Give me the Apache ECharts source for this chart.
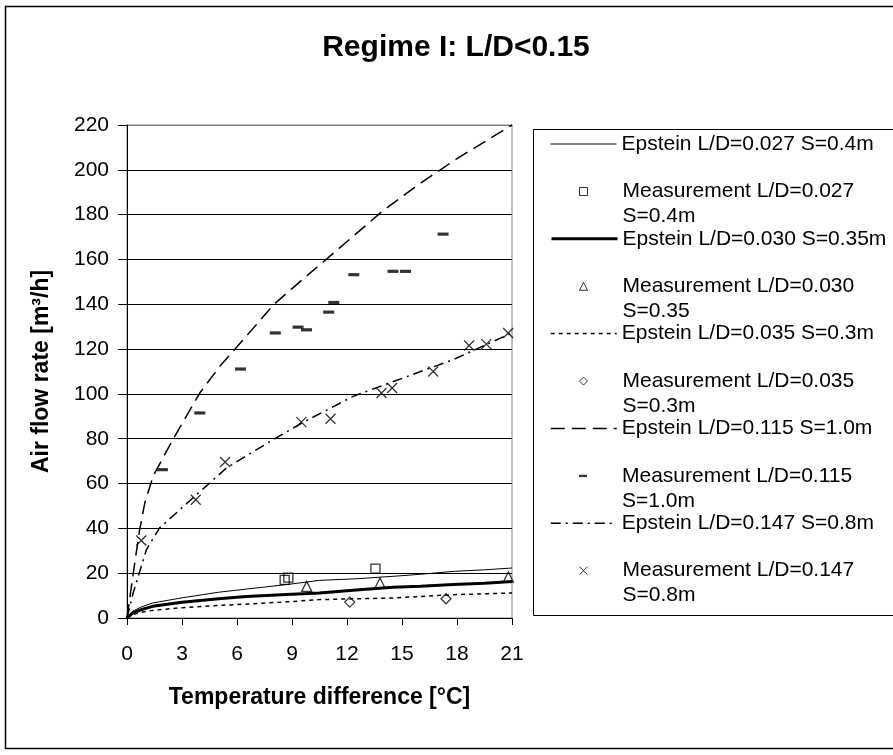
<!DOCTYPE html>
<html>
<head>
<meta charset="utf-8">
<script src="https://cdn.jsdelivr.net/npm/echarts@6/dist/echarts.min.js"></script>
<style>
  html, body { margin: 0; padding: 0; background: #fff; }
  #chart { width: 893px; height: 755px; }
</style>
</head>
<body>
<div id="chart"></div>
<script>
// ---------- DATA ----------
const chartTitle = 'Regime I: L/D<0.15';
const xAxisName = 'Temperature difference [°C]';
const yAxisName = 'Air flow rate [m³/h]';
const xTicks = [0, 3, 6, 9, 12, 15, 18, 21];
const yTicks = [0, 20, 40, 60, 80, 100, 120, 140, 160, 180, 200, 220];

const seriesNames = [
  'Epstein L/D=0.027 S=0.4m',
  'Measurement L/D=0.027\nS=0.4m',
  'Epstein L/D=0.030 S=0.35m',
  'Measurement L/D=0.030\nS=0.35',
  'Epstein L/D=0.035 S=0.3m',
  'Measurement L/D=0.035\nS=0.3m',
  'Epstein L/D=0.115 S=1.0m',
  'Measurement L/D=0.115\nS=1.0m',
  'Epstein L/D=0.147 S=0.8m',
  'Measurement L/D=0.147\nS=0.8m'
];

// Epstein curves (small L/D)
const epSmallX   = [0, 0.3, 0.8, 1.4, 3, 5, 6.5, 8.7, 10.5, 12.5, 14.5, 16, 17.8, 19.5, 21];
const ep027Y     = [0, 3.0, 5.0, 6.7, 9.0, 11.5, 12.9, 14.9, 16.8, 17.5, 18.6, 19.5, 20.8, 21.5, 22.3];
const ep030Y     = [0, 2.2, 3.8, 5.2, 7.0, 8.6, 9.6, 10.5, 11.2, 12.5, 13.7, 14.2, 14.9, 15.5, 16.3];
const ep035Y     = [0, 1.5, 2.6, 3.4, 4.6, 5.6, 6.2, 7.2, 8.2, 8.6, 8.9, 9.6, 10.4, 10.8, 11.2];

// Epstein L/D=0.115
const ep115X = [0, 0.24, 0.42, 0.69, 0.97, 1.42, 2.5, 3.97, 5.06, 6, 8, 9, 10, 12, 14, 16, 18, 21];
const ep115Y = [0, 14, 24.5, 39.4, 51.3, 63.2, 79.6, 100.4, 112.3, 121, 139.8, 147, 154, 168, 182, 194, 205, 220];

// Epstein L/D=0.147
const ep147X = [0, 0.33, 1.06, 1.78, 3.79, 5.42, 7.97, 9.51, 12.33, 15.06, 17.79, 21];
const ep147Y = [0, 11, 30.5, 40.2, 55, 66.9, 79.6, 86.9, 98.9, 107.1, 115.3, 127.2];

// Measurements
const m027X = [8.6, 8.8, 13.55];
const m027Y = [17.0, 18.0, 22.0];
const m030X = [9.8, 13.8, 20.8];
const m030Y = [14.1, 15.6, 18.3];
const m035X = [12.15, 17.4];
const m035Y = [7.1, 8.6];
const m115X = [1.93, 3.97, 6.19, 8.09, 9.33, 9.79, 11.0, 11.28, 12.37, 14.51, 15.19, 17.24];
const m115Y = [66.2, 91.5, 111.1, 127.2, 129.8, 128.6, 136.5, 140.8, 153.2, 154.7, 154.7, 171.3];
const m147X = [0.78, 3.75, 5.35, 9.51, 11.1, 13.88, 14.46, 16.7, 18.66, 19.6, 20.79];
const m147Y = [34.6, 52.8, 69.6, 87.4, 88.9, 100.4, 102.6, 110.0, 121.6, 122.2, 127.2];

// ---------- BUILD ----------
const zip = (xs, ys) => xs.map((x, i) => [x, ys[i]]);
const FONT = 'Liberation Sans, Arial, sans-serif';
const BLACK = '#000';

const lineSeries = (name, data, width, type) => ({
  name, type: 'line', data, symbol: 'none', smooth: false, z: 3,
  lineStyle: { color: BLACK, width, type },
  itemStyle: { color: BLACK },
  emphasis: { disabled: true }
});
const scatterSeries = (name, data, symbol, size, filled) => ({
  name, type: 'scatter', data, symbol, symbolSize: size, z: 4,
  itemStyle: filled
    ? { color: BLACK, borderWidth: 0 }
    : { color: 'rgba(255,255,255,0)', borderColor: BLACK, borderWidth: 1.3 },
  emphasis: { disabled: true }
});

const XSYM = 'path://M0,0L10,10M10,0L0,10';
const DASHSYM = 'path://M0,0L11,0L11,3.2L0,3.2Z';

const series = [
  lineSeries(seriesNames[0], zip(epSmallX, ep027Y), 1, 'solid'),
  scatterSeries(seriesNames[1], zip(m027X, m027Y), 'rect', 9, false),
  lineSeries(seriesNames[2], zip(epSmallX, ep030Y), 3, 'solid'),
  scatterSeries(seriesNames[3], zip(m030X, m030Y), 'triangle', 10, false),
  lineSeries(seriesNames[4], zip(epSmallX, ep035Y), 1.5, [4, 4]),
  scatterSeries(seriesNames[5], zip(m035X, m035Y), 'diamond', 10, false),
  lineSeries(seriesNames[6], zip(ep115X, ep115Y), 1.5, [14, 7]),
  scatterSeries(seriesNames[7], zip(m115X, m115Y), DASHSYM, [11, 3.2], true),
  lineSeries(seriesNames[8], zip(ep147X, ep147Y), 1.5, [10, 5, 2, 5]),
  scatterSeries(seriesNames[9], zip(m147X, m147Y), XSYM, 10, false)
];

// legend: one component per entry so each sits like the reference
const LEG_LINE_LEFT = 550, LEG_MARK_LEFT = 579;
const LEG_FIRST = 144, LEG_PITCH = 94.8, LEG_MEAS_OFF = 47.5;
const legendFont = 21, legendLH = 25;
const lineWidths = [1, 3, 1.5, 1.5, 1.5];
const legends = [];
for (let k = 0; k < 5; k++) {
  const c = LEG_FIRST + k * LEG_PITCH;
  legends.push({
    data: [seriesNames[2 * k]],
    orient: 'vertical', padding: 0,
    left: LEG_LINE_LEFT, top: c - legendFont / 2,
    itemWidth: 66, itemHeight: 14,
    selectedMode: false,
    lineStyle: { width: lineWidths[k] },
    itemStyle: { color: 'rgba(0,0,0,0)', borderWidth: 0, opacity: 0 },
    textStyle: { fontFamily: FONT, fontSize: legendFont, color: BLACK }
  });
  const cm = c + LEG_MEAS_OFF;
  legends.push({
    data: [seriesNames[2 * k + 1]],
    orient: 'vertical', padding: 0,
    left: LEG_MARK_LEFT, top: cm - 1.5 * legendLH,
    itemWidth: 8, itemHeight: 8,
    selectedMode: false,
    itemStyle: { borderWidth: 1 },
    // leading blank line keeps the icon level with the first text line
    formatter: (n) => '\u00a0\n' + n,
    textStyle: { fontFamily: FONT, fontSize: legendFont, color: BLACK, lineHeight: legendLH, padding: [0, 0, 0, 30] }
  });
}

const splitColors = yTicks.map((v, i) => i === yTicks.length - 1 ? '#808080' : BLACK);

const option = {
  animation: false,
  backgroundColor: '#fff',
  title: {
    text: chartTitle, left: 456, top: 33, textAlign: 'center', padding: 0,
    textStyle: { fontFamily: FONT, fontSize: 30, fontWeight: 'bold', color: BLACK }
  },
  legend: legends,
  grid: {
    left: 127, top: 125, width: 385, height: 493,
    show: true, borderColor: '#808080', borderWidth: 1, backgroundColor: 'transparent'
  },
  xAxis: {
    type: 'value', min: xTicks[0], max: xTicks[xTicks.length - 1], interval: 3,
    name: xAxisName, nameLocation: 'middle', nameGap: 68,
    nameTextStyle: { fontFamily: FONT, fontSize: 23, fontWeight: 'bold', color: BLACK },
    axisLine: { show: true, lineStyle: { color: BLACK, width: 1 } },
    axisTick: { show: true, length: 7, lineStyle: { color: BLACK } },
    axisLabel: { fontFamily: FONT, fontSize: 21, color: BLACK, margin: 26 },
    splitLine: { show: false }
  },
  yAxis: {
    type: 'value', min: yTicks[0], max: yTicks[yTicks.length - 1], interval: 20,
    name: yAxisName, nameLocation: 'middle', nameGap: 74, nameRotate: 90,
    nameTextStyle: { fontFamily: FONT, fontSize: 23, fontWeight: 'bold', color: BLACK },
    axisLine: { show: true, lineStyle: { color: BLACK, width: 1 } },
    axisTick: { show: true, length: 9, lineStyle: { color: BLACK } },
    axisLabel: { fontFamily: FONT, fontSize: 21, color: BLACK, margin: 18 },
    splitLine: { show: true, lineStyle: { color: splitColors, width: 1 } }
  },
  graphic: [
    { type: 'rect', z: -10, silent: true,
      shape: { x: 5.5, y: 6.5, width: 920, height: 742 },
      style: { fill: 'none', stroke: BLACK, lineWidth: 1.5 } },
    { type: 'rect', z: -10, silent: true,
      shape: { x: 533.5, y: 129.5, width: 400, height: 486 },
      style: { fill: '#fff', stroke: BLACK, lineWidth: 1 } }
  ],
  series
};

const chart = echarts.init(document.getElementById('chart'), null, { renderer: 'canvas' });
chart.setOption(option);
</script>
</body>
</html>
